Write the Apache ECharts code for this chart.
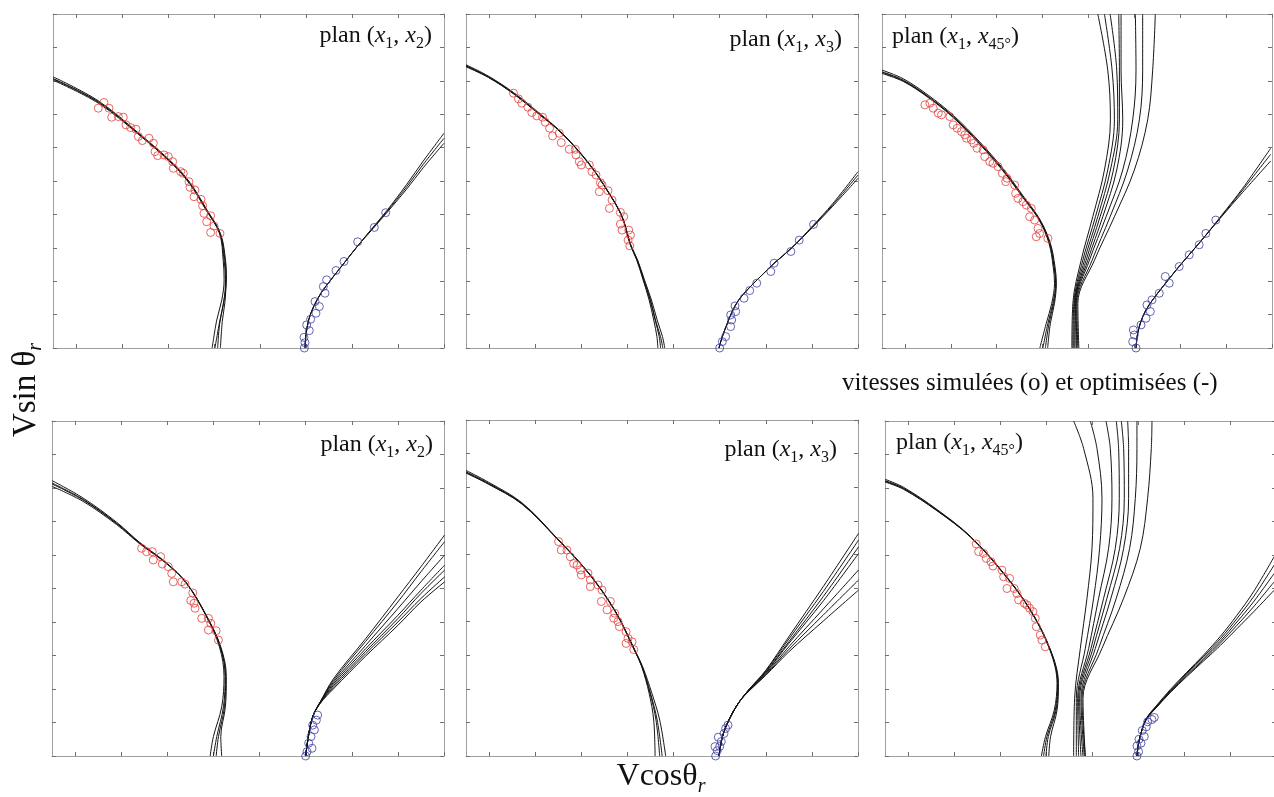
<!DOCTYPE html>
<html>
<head>
<meta charset="utf-8">
<script src="https://cdn.jsdelivr.net/npm/echarts@6.0.0/dist/echarts.min.js"></script>
<style>
html,body{margin:0;padding:0;background:#fff;}
#chart{width:1274px;height:797px;}
</style>
</head>
<body>
<div id="chart"></div>
<script>
// ---------- DATA ----------
const xTickVals = [0, 1, 2, 3, 4, 5, 6, 7, 8];
const panelSubs = [['1', '2'], ['1', '3'], ['1', '45°'], ['1', '2'], ['1', '3'], ['1', '45°']];
const legendText = 'vitesses simulées (o) et optimisées (-)';
const xLabelMain = 'Vcosθ';
const yLabelMain = 'Vsin θ';
const labelSub = 'r';

// Panel 1 : plan (x1,x2), top row
const p1Left = [
 [[-0.5,8.07],[0.485,7.37],[1.39,6.38],[2.115,5.5],[2.478,4.93],[2.84,4.13],[3.13,3.43],[3.22,2.63],[3.25,2.04],[3.22,1.44],[3.13,0.84],[3.02,0]],
 [[-0.5,8.12],[0.485,7.4],[1.39,6.4],[2.115,5.52],[2.478,4.95],[2.84,4.15],[3.14,3.43],[3.25,2.63],[3.27,2.04],[3.2,1.3],[3.12,0.7],[3.08,0]],
 [[-0.5,8.02],[0.485,7.33],[1.39,6.36],[2.115,5.48],[2.478,4.9],[2.84,4.1],[3.12,3.43],[3.2,2.63],[3.22,2.04],[3.17,1.44],[3.06,0.84],[2.96,0]],
 [[-0.5,8.05],[0.485,7.36],[1.39,6.37],[2.115,5.49],[2.478,4.92],[2.85,4.1],[3.14,3.4],[3.24,2.6],[3.26,2.0],[3.24,1.4],[3.18,0.8],[3.14,0]]
];
const p1Right = [
 [[4.978,0],[5.0,0.4],[5.06,0.85],[5.17,1.25],[5.33,1.65],[5.5,1.97],[5.7,2.32],[5.85,2.58],[6.12,3.05],[6.46,3.6],[6.75,4.07],[7.19,4.83],[7.55,5.5],[8.0,6.28]],
 [[4.978,0],[5.0,0.4],[5.06,0.85],[5.17,1.25],[5.33,1.65],[5.5,1.97],[5.7,2.32],[5.85,2.58],[6.12,3.05],[6.46,3.62],[6.75,4.1],[7.19,4.9],[7.55,5.6],[8.0,6.43]],
 [[4.978,0],[5.0,0.4],[5.06,0.85],[5.17,1.25],[5.33,1.65],[5.5,1.97],[5.7,2.32],[5.85,2.58],[6.12,3.05],[6.46,3.58],[6.75,4.04],[7.19,4.76],[7.55,5.4],[8.0,6.13]]
];
const p1Red = [[0.485,7.18],[0.608,7.35],[0.717,7.18],[0.775,6.91],[0.92,6.93],[1.029,6.91],[1.087,6.68],[1.188,6.6],[1.304,6.55],[1.355,6.33],[1.442,6.21],[1.587,6.28],[1.681,6.13],[1.717,5.88],[1.775,5.76],[1.913,5.78],[2.007,5.73],[2.101,5.58],[2.116,5.38],[2.275,5.28],[2.333,5.23],[2.456,4.98],[2.478,4.81],[2.587,4.73],[2.565,4.53],[2.717,4.45],[2.753,4.26],[2.782,4.03],[2.927,3.96],[2.84,3.78],[3.0,3.65],[2.927,3.46],[3.13,3.43]];
const p1Blue = [[4.964,0.0],[4.978,0.16],[4.956,0.32],[5.072,0.52],[5.014,0.69],[5.101,0.86],[5.217,1.04],[5.29,1.24],[5.196,1.39],[5.413,1.64],[5.377,1.84],[5.449,2.04],[5.652,2.32],[5.826,2.59],[6.123,3.18],[6.485,3.61],[6.732,4.05]];

// Panel 2 : plan (x1,x3), top row
const p2Left = [
 [[-0.5,8.45],[-0.014,8.12],[0.529,7.63],[1.073,7.03],[1.58,6.43],[2.16,5.53],[2.594,4.65],[2.884,3.93],[3.07,3.08],[3.21,2.64],[3.355,2.04],[3.5,1.44],[3.609,0.84],[3.717,0.34],[3.768,0]],
 [[-0.5,8.48],[-0.014,8.14],[0.529,7.65],[1.073,7.05],[1.58,6.44],[2.16,5.54],[2.594,4.66],[2.884,3.94],[3.075,3.08],[3.22,2.64],[3.37,2.04],[3.52,1.44],[3.645,0.84],[3.76,0.34],[3.81,0]],
 [[-0.5,8.42],[-0.014,8.1],[0.529,7.61],[1.073,7.01],[1.58,6.42],[2.16,5.52],[2.594,4.64],[2.884,3.92],[3.065,3.08],[3.2,2.64],[3.34,2.04],[3.47,1.44],[3.57,0.84],[3.64,0.34],[3.66,0]],
 [[-0.5,8.44],[-0.014,8.11],[0.529,7.62],[1.073,7.02],[1.58,6.43],[2.16,5.53],[2.594,4.65],[2.884,3.93],[3.07,3.08],[3.21,2.64],[3.35,2.04],[3.49,1.44],[3.6,0.84],[3.69,0.34],[3.72,0]]
];
const p2Right = [
 [[4.986,0],[5.058,0.34],[5.167,0.74],[5.275,1.1],[5.42,1.45],[5.64,1.8],[5.93,2.2],[6.2,2.56],[6.55,2.98],[7.02,3.64],[7.45,4.28],[8.0,5.18]],
 [[4.986,0],[5.058,0.34],[5.167,0.74],[5.275,1.1],[5.42,1.45],[5.64,1.8],[5.93,2.2],[6.2,2.56],[6.55,2.98],[7.02,3.66],[7.45,4.32],[8.0,5.28]],
 [[4.986,0],[5.058,0.34],[5.167,0.74],[5.275,1.1],[5.42,1.45],[5.64,1.8],[5.93,2.2],[6.2,2.56],[6.55,2.98],[7.02,3.62],[7.45,4.24],[8.0,5.08]]
];
const p2Red = [[0.529,7.63],[0.638,7.46],[0.71,7.33],[0.841,7.21],[0.928,7.05],[1.036,6.95],[1.16,6.91],[1.217,6.76],[1.312,6.58],[1.377,6.35],[1.522,6.43],[1.565,6.15],[1.739,5.95],[1.87,5.95],[1.884,5.78],[1.957,5.58],[2.0,5.48],[2.174,5.48],[2.232,5.28],[2.319,5.18],[2.413,4.95],[2.391,4.68],[2.449,4.88],[2.58,4.71],[2.667,4.43],[2.609,4.18],[2.848,4.06],[2.92,3.93],[2.848,3.71],[2.884,3.53],[3.029,3.53],[3.065,3.38],[3.015,3.23],[3.051,3.06]];
const p2Blue = [[5.0,0],[5.058,0.19],[5.13,0.34],[5.239,0.64],[5.261,0.84],[5.239,0.99],[5.348,1.09],[5.333,1.26],[5.529,1.49],[5.652,1.72],[5.804,1.94],[6.109,2.29],[6.181,2.54],[6.544,2.89],[6.725,3.23],[7.036,3.7]];

// Panel 3 : plan (x1,x45), top row
const p3Left = [
 [[-0.5,8.27],[-0.036,8.02],[0.507,7.53],[1.051,6.93],[1.63,6.13],[2.138,5.33],[2.572,4.53],[2.935,3.83],[3.152,3.13],[3.246,2.44],[3.283,1.94],[3.225,1.34],[3.116,0.74],[3.007,0]],
 [[-0.5,8.32],[-0.036,8.06],[0.507,7.57],[1.051,6.97],[1.63,6.17],[2.138,5.37],[2.572,4.56],[2.95,3.83],[3.17,3.13],[3.27,2.44],[3.3,1.94],[3.26,1.34],[3.17,0.74],[3.11,0]],
 [[-0.5,8.22],[-0.036,7.98],[0.507,7.5],[1.051,6.9],[1.63,6.1],[2.138,5.3],[2.572,4.5],[2.925,3.83],[3.14,3.13],[3.23,2.44],[3.26,1.94],[3.2,1.34],[3.08,0.74],[2.94,0]],
 [[-0.5,8.25],[-0.036,8.0],[0.507,7.52],[1.051,6.92],[1.63,6.12],[2.138,5.32],[2.572,4.52],[2.94,3.82],[3.16,3.12],[3.255,2.43],[3.29,1.93],[3.24,1.33],[3.14,0.73],[3.06,0]]
];
const p3Mid = [
 [[3.638,0],[3.66,1.34],[3.841,2.63],[4.094,3.93],[4.348,5.33],[4.478,6.83],[4.42,8.32],[4.203,10]],
 [[3.66,0],[3.681,1.34],[3.877,2.63],[4.152,3.93],[4.42,5.33],[4.565,6.83],[4.515,8.32],[4.348,10]],
 [[3.681,0],[3.696,1.34],[3.913,2.63],[4.203,3.93],[4.478,5.33],[4.638,6.83],[4.616,8.32],[4.471,10]],
 [[3.703,0],[3.71,1.34],[3.949,2.63],[4.254,3.93],[4.544,5.33],[4.674,6.83],[4.674,8.32],[4.66,10]],
 [[3.732,0],[3.718,1.34],[3.986,2.63],[4.312,3.93],[4.616,5.33],[4.747,6.83],[4.71,8.32],[4.71,10]],
 [[3.747,0],[3.732,1.34],[4.022,2.63],[4.384,3.93],[4.747,5.33],[4.964,6.83],[5.036,8.32],[5.022,10]],
 [[3.768,0],[3.747,1.34],[4.08,2.63],[4.471,3.93],[4.855,5.33],[5.109,6.83],[5.181,8.32],[5.181,10]],
 [[3.79,0],[3.768,1.34],[4.131,2.63],[4.565,3.93],[5.0,5.33],[5.29,6.83],[5.399,8.32],[5.457,10]]
];
const p3Right = [
 [[5.036,0],[5.072,0.44],[5.145,0.8],[5.254,1.14],[5.399,1.44],[5.6,1.8],[5.95,2.4],[6.2,2.8],[6.56,3.38],[6.9,3.95],[7.36,4.73],[7.971,5.8]],
 [[5.036,0],[5.072,0.44],[5.145,0.8],[5.254,1.14],[5.399,1.44],[5.6,1.8],[5.95,2.4],[6.2,2.8],[6.56,3.38],[6.9,3.97],[7.36,4.78],[7.971,5.98]],
 [[5.036,0],[5.072,0.44],[5.145,0.8],[5.254,1.14],[5.399,1.44],[5.6,1.8],[5.95,2.4],[6.2,2.8],[6.56,3.38],[6.9,3.93],[7.36,4.66],[7.971,5.6]]
];
const p3Red = [[0.435,7.28],[0.543,7.33],[0.616,7.18],[0.725,7.03],[0.797,6.98],[0.978,6.93],[1.051,6.68],[1.138,6.58],[1.232,6.48],[1.304,6.38],[1.34,6.28],[1.449,6.23],[1.5,6.13],[1.572,5.98],[1.703,5.93],[1.739,5.73],[1.848,5.58],[1.92,5.53],[2.029,5.43],[2.123,5.23],[2.196,4.98],[2.225,5.08],[2.391,4.88],[2.413,4.63],[2.464,4.48],[2.572,4.38],[2.645,4.28],[2.754,4.18],[2.717,3.93],[2.826,3.83],[2.899,3.58],[2.935,3.43],[2.862,3.33],[3.116,3.28]];
const p3Blue = [[5.036,0],[4.964,0.19],[5.0,0.39],[4.978,0.54],[5.145,0.69],[5.254,0.89],[5.348,1.09],[5.275,1.29],[5.384,1.44],[5.543,1.64],[5.674,2.14],[5.761,1.94],[5.978,2.44],[6.196,2.79],[6.413,3.09],[6.558,3.43],[6.775,3.83]];

// Panel 4 : plan (x1,x2), bottom row
const p4Left = [
 [[-0.5,8.12],[0.175,7.64],[0.899,6.94],[1.406,6.35],[1.986,5.75],[2.421,5.15],[2.856,4.16],[3.146,3.26],[3.254,2.37],[3.218,1.47],[3.073,0.58],[3.0,0]],
 [[-0.5,8.22],[0.175,7.7],[0.899,6.98],[1.406,6.37],[1.986,5.76],[2.421,5.16],[2.86,4.16],[3.16,3.26],[3.28,2.37],[3.26,1.47],[3.16,0.58],[3.18,0]],
 [[-0.5,8.05],[0.175,7.6],[0.899,6.91],[1.406,6.33],[1.986,5.74],[2.421,5.14],[2.85,4.16],[3.13,3.26],[3.23,2.37],[3.18,1.47],[3.0,0.58],[2.93,0]],
 [[-0.5,8.15],[0.175,7.66],[0.899,6.95],[1.406,6.35],[1.986,5.75],[2.421,5.15],[2.856,4.16],[3.15,3.26],[3.265,2.37],[3.24,1.47],[3.11,0.58],[3.06,0]]
];
const p4Right = [
 [[5.0,0],[5.07,0.67],[5.16,1.2],[5.32,1.62],[5.6,2.3],[6.3,3.5],[7.0,4.75],[7.5,5.65],[8.015,6.6]],
 [[5.0,0],[5.07,0.67],[5.16,1.2],[5.32,1.62],[5.6,2.25],[6.3,3.42],[7.0,4.6],[7.5,5.5],[8.015,6.4]],
 [[5.0,0],[5.07,0.67],[5.16,1.2],[5.32,1.62],[5.6,2.2],[6.3,3.3],[7.0,4.4],[7.5,5.2],[8.015,6.0]],
 [[5.0,0],[5.07,0.67],[5.16,1.2],[5.32,1.6],[5.6,2.15],[6.3,3.2],[7.0,4.2],[7.5,4.95],[8.015,5.7]],
 [[5.0,0],[5.07,0.67],[5.16,1.2],[5.32,1.6],[5.6,2.1],[6.3,3.12],[7.0,4.1],[7.5,4.85],[8.015,5.55]],
 [[5.0,0],[5.07,0.67],[5.16,1.2],[5.32,1.58],[5.6,2.05],[6.3,3.05],[7.0,4.0],[7.5,4.7],[8.015,5.35]],
 [[5.0,0],[5.07,0.67],[5.16,1.2],[5.32,1.58],[5.6,2.0],[6.3,2.98],[7.0,3.9],[7.5,4.6],[8.015,5.2]]
];
const p4Red = [[1.443,6.2],[1.551,6.1],[1.674,6.1],[1.696,5.85],[1.856,5.95],[1.892,5.73],[2.022,5.65],[2.095,5.45],[2.131,5.2],[2.312,5.2],[2.385,5.13],[2.551,4.87],[2.508,4.64],[2.58,4.56],[2.602,4.41],[2.747,4.11],[2.892,4.11],[2.943,3.96],[2.892,3.76],[3.059,3.74],[3.109,3.46]];
const p4Blue = [[5.0,0],[5.03,0.13],[5.138,0.23],[5.066,0.38],[5.116,0.58],[5.189,0.78],[5.152,0.92],[5.232,1.07],[5.261,1.22]];

// Panel 5 : plan (x1,x3), bottom row
const p5Left = [
 [[-0.5,8.46],[-0.014,8.12],[0.71,7.52],[1.435,6.53],[2.16,5.44],[2.739,4.3],[3.174,3.1],[3.319,2.66],[3.5,1.87],[3.645,1.07],[3.754,0]],
 [[-0.5,8.5],[-0.014,8.15],[0.71,7.54],[1.435,6.54],[2.16,5.45],[2.739,4.31],[3.18,3.1],[3.33,2.66],[3.53,1.87],[3.7,1.07],[3.83,0]],
 [[-0.5,8.42],[-0.014,8.09],[0.71,7.5],[1.435,6.52],[2.16,5.43],[2.739,4.29],[3.168,3.1],[3.31,2.66],[3.47,1.87],[3.57,1.07],[3.6,0]],
 [[-0.5,8.44],[-0.014,8.1],[0.71,7.51],[1.435,6.53],[2.16,5.44],[2.739,4.3],[3.172,3.1],[3.315,2.66],[3.49,1.87],[3.62,1.07],[3.7,0]]
];
const p5Right = [
 [[4.986,0],[5.06,0.57],[5.2,1.07],[5.42,1.6],[5.65,2.0],[6.0,2.55],[6.5,3.55],[7.25,5.05],[8.014,6.63]],
 [[4.986,0],[5.06,0.57],[5.2,1.07],[5.42,1.6],[5.65,2.0],[6.0,2.53],[6.5,3.48],[7.25,4.9],[8.014,6.43]],
 [[4.986,0],[5.06,0.57],[5.2,1.07],[5.42,1.6],[5.65,2.0],[6.0,2.5],[6.5,3.4],[7.25,4.75],[8.014,6.23]],
 [[4.986,0],[5.06,0.57],[5.2,1.07],[5.42,1.6],[5.65,1.98],[6.0,2.48],[6.5,3.35],[7.25,4.62],[8.014,6.03]],
 [[4.986,0],[5.06,0.57],[5.2,1.07],[5.42,1.6],[5.65,1.97],[6.0,2.45],[6.5,3.25],[7.25,4.38],[8.014,5.54]],
 [[4.986,0],[5.06,0.57],[5.2,1.07],[5.42,1.6],[5.65,1.96],[6.0,2.42],[6.5,3.17],[7.25,4.2],[8.014,5.24]],
 [[4.986,0],[5.06,0.57],[5.2,1.07],[5.42,1.6],[5.65,1.95],[6.0,2.4],[6.5,3.1],[7.25,4.02],[8.014,4.94]]
];
const p5Red = [[1.507,6.38],[1.565,6.13],[1.688,6.13],[1.761,5.93],[1.833,5.73],[1.906,5.68],[1.978,5.54],[2.0,5.39],[2.145,5.44],[2.196,5.24],[2.196,5.04],[2.362,5.09],[2.449,4.94],[2.435,4.6],[2.63,4.6],[2.558,4.35],[2.725,4.25],[2.703,4.1],[2.797,4.0],[2.826,3.85],[2.971,3.7],[3.014,3.5],[3.101,3.4],[2.971,3.35],[3.138,3.17]];
const p5Blue = [[4.913,0],[4.949,0.16],[5.0,0.28],[4.899,0.28],[5.036,0.43],[4.971,0.56],[5.094,0.67],[5.13,0.82],[5.181,0.92]];

// Panel 6 : plan (x1,x45), bottom row
const p6Left = [
 [[-0.5,8.22],[-0.095,7.99],[0.629,7.34],[1.354,6.55],[2.079,5.45],[2.658,4.36],[3.093,3.16],[3.252,2.17],[3.202,1.37],[3.021,0.58],[2.948,0]],
 [[-0.5,8.26],[-0.095,8.02],[0.629,7.36],[1.354,6.56],[2.079,5.46],[2.658,4.37],[3.1,3.16],[3.27,2.17],[3.24,1.37],[3.1,0.58],[3.06,0]],
 [[-0.5,8.18],[-0.095,7.96],[0.629,7.32],[1.354,6.54],[2.079,5.44],[2.658,4.35],[3.085,3.16],[3.24,2.17],[3.18,1.37],[2.99,0.58],[2.9,0]],
 [[-0.5,8.2],[-0.095,7.98],[0.629,7.33],[1.354,6.55],[2.079,5.45],[2.658,4.36],[3.095,3.16],[3.26,2.17],[3.22,1.37],[3.05,0.58],[3.0,0]]
];
const p6Mid = [
 [[3.601,0],[3.622,1.72],[3.746,3.21],[3.891,4.71],[4.0,6.2],[4.021,7.69],[3.818,9.18],[3.601,10]],
 [[3.659,0],[3.659,1.72],[3.854,3.21],[4.035,4.71],[4.166,6.2],[4.217,7.69],[4.108,9.18],[3.963,10]],
 [[3.709,0],[3.688,1.72],[3.927,3.21],[4.144,4.71],[4.361,6.2],[4.434,7.69],[4.398,9.18],[4.304,10]],
 [[3.76,0],[3.709,1.72],[3.977,3.21],[4.253,4.71],[4.506,6.2],[4.593,7.69],[4.579,9.18],[4.528,10]],
 [[3.804,0],[3.731,1.72],[4.021,3.21],[4.325,4.71],[4.6,6.2],[4.702,7.69],[4.688,9.18],[4.637,10]],
 [[3.833,0],[3.76,1.72],[4.072,3.21],[4.412,4.71],[4.688,6.2],[4.796,7.69],[4.796,9.18],[4.775,10]],
 [[3.854,0],[3.782,1.72],[4.144,3.21],[4.528,4.71],[4.818,6.2],[4.941,7.69],[4.977,9.18],[4.977,10]],
 [[3.854,0],[3.804,1.72],[4.217,3.21],[4.688,4.71],[5.05,6.2],[5.209,7.69],[5.289,9.18],[5.304,10]]
];
const p6Right = [
 [[4.977,0],[5.013,0.38],[5.086,0.78],[5.194,1.15],[5.41,1.52],[5.7,1.98],[6.06,2.5],[6.43,3.02],[6.79,3.57],[7.15,4.2],[7.51,4.9],[7.96,5.95]],
 [[4.977,0],[5.013,0.38],[5.086,0.78],[5.194,1.14],[5.41,1.5],[5.7,1.95],[6.06,2.47],[6.43,2.98],[6.79,3.5],[7.15,4.1],[7.51,4.75],[7.96,5.7]],
 [[4.977,0],[5.013,0.38],[5.086,0.78],[5.194,1.13],[5.41,1.48],[5.7,1.93],[6.06,2.43],[6.43,2.93],[6.79,3.43],[7.15,4.0],[7.51,4.6],[7.96,5.45]],
 [[4.977,0],[5.013,0.38],[5.086,0.78],[5.194,1.12],[5.41,1.47],[5.7,1.91],[6.06,2.4],[6.43,2.88],[6.79,3.37],[7.15,3.9],[7.51,4.45],[7.96,5.2]],
 [[4.977,0],[5.013,0.38],[5.086,0.78],[5.194,1.12],[5.41,1.46],[5.7,1.89],[6.06,2.37],[6.43,2.84],[6.79,3.3],[7.15,3.8],[7.51,4.3],[7.96,4.95]]
];
const p6Red = [[1.484,6.33],[1.535,6.1],[1.644,6.05],[1.702,5.9],[1.803,5.8],[1.847,5.67],[2.042,5.55],[2.079,5.35],[2.209,5.3],[2.151,5.0],[2.31,5.0],[2.368,4.85],[2.404,4.66],[2.528,4.56],[2.586,4.51],[2.644,4.41],[2.716,4.31],[2.767,4.11],[2.789,3.86],[2.876,3.61],[2.912,3.46],[2.984,3.26]];
const p6Blue = [[4.977,0],[5.013,0.13],[4.977,0.3],[5.064,0.38],[5.021,0.5],[5.137,0.58],[5.093,0.76],[5.18,0.87],[5.209,1.02],[5.303,1.09],[5.354,1.15]];

// ---------- LAYOUT ----------
const panels = [
  {grid:{left:53, top:14, width:391, height:334}, fams:[p1Left, p1Right], red:p1Red, blue:p1Blue, lab:{x:432, y:36, align:'right'}},
  {grid:{left:466, top:14, width:392, height:334}, fams:[p2Left, p2Right], red:p2Red, blue:p2Blue, lab:{x:842, y:40, align:'right'}},
  {grid:{left:882, top:14, width:390, height:334}, fams:[p3Left, p3Mid, p3Right], red:p3Red, blue:p3Blue, lab:{x:892, y:37, align:'left'}},
  {grid:{left:52, top:421, width:392, height:335}, fams:[p4Left, p4Right], red:p4Red, blue:p4Blue, lab:{x:433, y:445, align:'right'}},
  {grid:{left:466, top:420, width:392, height:336}, fams:[p5Left, p5Right], red:p5Red, blue:p5Blue, lab:{x:837, y:450, align:'right'}},
  {grid:{left:885, top:421, width:391, height:335}, fams:[p6Left, p6Mid, p6Right], red:p6Red, blue:p6Blue, lab:{x:896, y:443, align:'left'}}
];

const SERIF = '"Liberation Serif","Times New Roman",serif';
const grids = [], xAxes = [], yAxes = [], series = [], graphics = [];
const axisLine = {show:true, onZero:false, lineStyle:{color:'#a0a0a0', width:1}};
function tickCfg(vals){
  const t = {show:true, inside:true, length:4, lineStyle:{color:'#707070', width:1}};
  if (vals) t.customValues = vals;
  return t;
}
panels.forEach((p, i) => {
  grids.push(Object.assign({show:false, outerBoundsMode:'none', containLabel:false}, p.grid));
  ['bottom','top'].forEach(pos => xAxes.push({
    gridIndex:i, type:'value', min:-0.5, max:8, position:pos,
    axisLine:axisLine, axisTick:tickCfg(xTickVals), axisLabel:{show:false}, splitLine:{show:false}
  }));
  ['left','right'].forEach(pos => yAxes.push({
    gridIndex:i, type:'value', min:0, max:10, interval:1, position:pos,
    axisLine:axisLine, axisTick:tickCfg(null), axisLabel:{show:false}, splitLine:{show:false}
  }));
  const xi = 2*i, yi = 2*i;
  p.fams.forEach(fam => fam.forEach(line => series.push({
    type:'line', xAxisIndex:xi, yAxisIndex:yi, data:line, smooth:0.35,
    symbol:'none', lineStyle:{color:'#151515', width:1}, silent:true, clip:true, z:2
  })));
  series.push({type:'scatter', xAxisIndex:xi, yAxisIndex:yi, data:p.red, symbol:'circle', symbolSize:8,
    itemStyle:{color:'rgba(0,0,0,0)', borderColor:'#e2403c', borderWidth:1}, silent:true, z:3});
  series.push({type:'scatter', xAxisIndex:xi, yAxisIndex:yi, data:p.blue, symbol:'circle', symbolSize:8,
    itemStyle:{color:'rgba(0,0,0,0)', borderColor:'#3d3f9e', borderWidth:1}, silent:true, z:3});

  const s = panelSubs[i];
  graphics.push({
    type:'text', x:p.lab.x, y:p.lab.y, z:10,
    style:{
      text:'{n|plan (}{i|x}{s|' + s[0] + '}{n|, }{i|x}{s|' + s[1] + '}{n|)}',
      align:p.lab.align, verticalAlign:'middle', fill:'#111',
      rich:{
        n:{fontFamily:SERIF, fontSize:24, lineHeight:31, fill:'#111'},
        i:{fontFamily:SERIF, fontStyle:'italic', fontSize:24, lineHeight:31, fill:'#111'},
        s:{fontFamily:SERIF, fontSize:16, lineHeight:19, verticalAlign:'bottom', fill:'#111'}
      }
    }
  });
});

graphics.push({
  type:'text', x:842, y:383, z:10,
  style:{text:legendText, font:'25px ' + SERIF, fill:'#111', align:'left', verticalAlign:'middle'}
});
graphics.push({
  type:'text', x:661, y:777, z:10,
  style:{
    text:'{n|' + xLabelMain + '}{s|' + labelSub + '}', align:'center', verticalAlign:'middle',
    rich:{
      n:{fontFamily:SERIF, fontSize:32, lineHeight:40, fill:'#111'},
      s:{fontFamily:SERIF, fontStyle:'italic', fontSize:20, lineHeight:16, verticalAlign:'bottom', fill:'#111'}
    }
  }
});
graphics.push({
  type:'text', x:26, y:390, rotation:Math.PI/2, z:10,
  style:{
    text:'{n|' + yLabelMain + '}{s|' + labelSub + '}', align:'center', verticalAlign:'middle',
    rich:{
      n:{fontFamily:SERIF, fontSize:33, lineHeight:40, fill:'#111'},
      s:{fontFamily:SERIF, fontStyle:'italic', fontSize:20, lineHeight:16, verticalAlign:'bottom', fill:'#111'}
    }
  }
});

const chart = echarts.init(document.getElementById('chart'), null, {renderer:'canvas'});
chart.setOption({
  animation:false,
  backgroundColor:'#fff',
  grid:grids, xAxis:xAxes, yAxis:yAxes, series:series, graphic:graphics
});
</script>
</body>
</html>
